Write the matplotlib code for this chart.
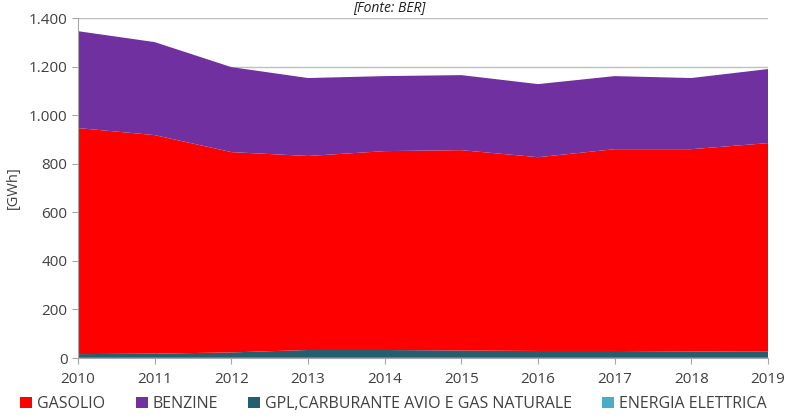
import matplotlib
matplotlib.use("Agg")
import matplotlib.pyplot as plt
from matplotlib.patches import Patch
from matplotlib.ticker import FuncFormatter

years = [2010, 2011, 2012, 2013, 2014, 2015, 2016, 2017, 2018, 2019]
energia_elettrica = [1, 1, 1, 1, 1, 1, 1, 1, 1, 1]
gpl_avio_gas = [15, 17, 22, 32, 32, 30, 28, 28, 26, 25]
gasolio = [931, 900, 825, 799, 819, 825, 798, 831, 833, 859]
benzine = [399, 383, 350, 321, 309, 309, 301, 301, 293, 305]

labels = ["GASOLIO", "BENZINE", "GPL,CARBURANTE AVIO E GAS NATURALE", "ENERGIA ELETTRICA"]
colors = {"GASOLIO": "#FF0000", "BENZINE": "#7030A0",
          "GPL,CARBURANTE AVIO E GAS NATURALE": "#235F6E",
          "ENERGIA ELETTRICA": "#4BACC6"}

plt.rcParams['font.family'] = ['Open Sans', 'DejaVu Sans']
fig = plt.figure(figsize=(7.87, 4.2), dpi=100)
ax = fig.add_axes([0.0991, 0.1476, 0.8768, 0.8094])

ax.stackplot(years, energia_elettrica, gpl_avio_gas, gasolio, benzine,
             colors=[colors["ENERGIA ELETTRICA"], colors["GPL,CARBURANTE AVIO E GAS NATURALE"],
                     colors["GASOLIO"], colors["BENZINE"]], linewidth=0, zorder=2)

ax.set_xlim(2010, 2019)
ax.set_ylim(0, 1400)
ax.set_yticks(range(0, 1401, 200))
ax.yaxis.set_major_formatter(FuncFormatter(lambda v, p: f"{int(v):,}".replace(",", ".")))
ax.set_xticks(years)
ax.grid(axis='y', color='#BFBFBF', linewidth=1, zorder=0)
ax.set_axisbelow(True)
for s in ['top', 'right']:
    ax.spines[s].set_visible(False)
for s in ['left', 'bottom']:
    ax.spines[s].set_color('#A6A6A6')
ax.tick_params(axis='both', colors='#A6A6A6', labelcolor='#404040', labelsize=11, length=4)
ax.tick_params(axis='x', pad=6)
ax.set_ylabel("[GWh]", color='#404040', fontsize=10.5, labelpad=6)

fig.text(0.495, 0.999, "[Fonte: BER]", ha='center', va='top', style='italic',
         fontsize=10, color='#202020')

handles = [Patch(facecolor=colors[l], edgecolor='none') for l in labels]
leg = fig.legend(handles, labels, loc='lower center', bbox_to_anchor=(0.5, -0.015), ncol=4,
                 frameon=False, fontsize=11.5, handlelength=0.75, handleheight=0.75,
                 handletextpad=0.3, columnspacing=1.9)
for t in leg.get_texts():
    t.set_color('#404040')

fig.savefig("out.png", dpi=100)
